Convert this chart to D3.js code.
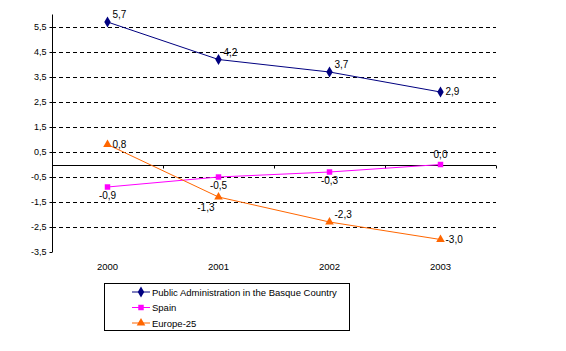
<!DOCTYPE html>
<html>
<head>
<meta charset="utf-8">
<script src="https://cdn.jsdelivr.net/npm/d3@7"></script>
<style>
  body { margin: 0; background: #fff; }
  svg text { font-family: "Liberation Sans", Arial, sans-serif; font-size: 10px; fill: #000; }
</style>
</head>
<body>
<script>
// data
const years = ["2000", "2001", "2002", "2003"];
const basque = [5.7, 4.2, 3.7, 2.9];
const spain = [-0.9, -0.5, -0.3, 0.0];
const europe = [0.8, -1.3, -2.3, -3.0];
const yTicks = [-3.5, -2.5, -1.5, -0.5, 0.5, 1.5, 2.5, 3.5, 4.5, 5.5];
const seriesNames = ["Public Administration in the Basque Country", "Spain", "Europe-25"];

const series = [
  { name: seriesNames[0], values: basque, color: "#000080", symbol: d3.symbolDiamond, size: 36,
    label: ["ra", "ra", "ra", "r"] },
  { name: seriesNames[1], values: spain, color: "#FF00FF", symbol: d3.symbolSquare, size: 30,
    label: ["b", "b", "b", "t"] },
  { name: seriesNames[2], values: europe, color: "#FF6600", symbol: d3.symbolTriangle, size: 32,
    label: ["r", "bl", "ra", "r"] }
];

// comma decimal, plain hyphen for minus
const fmt = v => d3.format(".1f")(v).replace(".", ",").replace("\u2212", "-");

const svg = d3.select("body").append("svg")
  .attr("width", 566)
  .attr("height", 351);

const x = d3.scaleBand().domain(years).range([52, 496]);
const y = d3.scaleLinear().domain([-3.5, 6]).range([252, 14.5]);
const cx = d => x(d) + x.bandwidth() / 2;

// gridlines
svg.append("g").selectAll("line")
  .data(yTicks.filter(t => t > -3.5))
  .enter().append("line")
  .attr("x1", 52).attr("x2", 496)
  .attr("y1", d => Math.round(y(d)) + 0.5).attr("y2", d => Math.round(y(d)) + 0.5)
  .attr("stroke", "#000").attr("stroke-dasharray", "4,3");

// y axis
const yAxis = svg.append("g")
  .attr("transform", "translate(52.5,0)")
  .call(d3.axisLeft(y).tickValues(yTicks).tickFormat(fmt).tickSizeOuter(0).tickSize(3).tickPadding(3));
yAxis.select(".domain").attr("d", "M0," + y(6) + "V" + y(-3.5));
yAxis.selectAll("text").style("font-size", "9px");

// x axis at zero
const x0 = Math.round(y(0)) + 0.5;
svg.append("line")
  .attr("x1", 52).attr("x2", 496).attr("y1", x0).attr("y2", x0)
  .attr("stroke", "#000");
svg.append("g").selectAll("line")
  .data(years.slice(1).concat(["end"]))
  .enter().append("line")
  .attr("x1", (d, i) => Math.round(x(years[0]) + x.bandwidth() * (i + 1)) + 0.5)
  .attr("x2", (d, i) => Math.round(x(years[0]) + x.bandwidth() * (i + 1)) + 0.5)
  .attr("y1", x0).attr("y2", x0 + 3)
  .attr("stroke", "#000");

// category labels
svg.append("g").selectAll("text")
  .data(years)
  .enter().append("text")
  .attr("x", d => cx(d))
  .attr("y", 270)
  .attr("text-anchor", "middle")
  .style("font-size", "9.5px")
  .text(d => d);

// lines, markers, labels
const line = d3.line().x((d, i) => cx(years[i])).y(d => y(d));

series.forEach(s => {
  const g = svg.append("g");
  g.append("path")
    .attr("d", line(s.values))
    .attr("fill", "none")
    .attr("stroke", s.color)
    .attr("stroke-width", 1);
  g.selectAll("path.m")
    .data(s.values)
    .enter().append("path")
    .attr("class", "m")
    .attr("d", d3.symbol().type(s.symbol).size(s.size))
    .attr("transform", (d, i) => "translate(" + cx(years[i]) + "," + y(d) + ")")
    .attr("fill", s.color);
  g.selectAll("text")
    .data(s.values)
    .enter().append("text")
    .attr("x", (d, i) => {
      const p = s.label[i];
      if (p === "b" || p === "t") return cx(years[i]);
      if (p === "bl") return cx(years[i]) - 4;
      return cx(years[i]) + 5;
    })
    .attr("y", (d, i) => {
      const p = s.label[i];
      if (p === "b") return y(d) + 12;
      if (p === "bl") return y(d) + 14;
      if (p === "t") return y(d) - 7;
      if (p === "ra") return y(d) - 4;
      return y(d) + 3;
    })
    .attr("text-anchor", (d, i) => {
      const p = s.label[i];
      if (p === "b" || p === "t") return "middle";
      if (p === "bl") return "end";
      return "start";
    })
    .text(d => fmt(d));
});

// legend
const legend = svg.append("g");
legend.append("rect")
  .attr("x", 104.5).attr("y", 283.5)
  .attr("width", 245).attr("height", 47)
  .attr("fill", "#fff").attr("stroke", "#000");
series.forEach((s, i) => {
  const ly = 292 + i * 15.5;
  legend.append("line")
    .attr("x1", 132).attr("x2", 150).attr("y1", ly).attr("y2", ly)
    .attr("stroke", s.color);
  legend.append("path")
    .attr("d", d3.symbol().type(s.symbol).size(s.size))
    .attr("transform", "translate(141," + ly + ")")
    .attr("fill", s.color);
  legend.append("text")
    .attr("x", 152).attr("y", ly + 3.5)
    .style("font-size", "9.5px")
    .text(s.name);
});
</script>
</body>
</html>
